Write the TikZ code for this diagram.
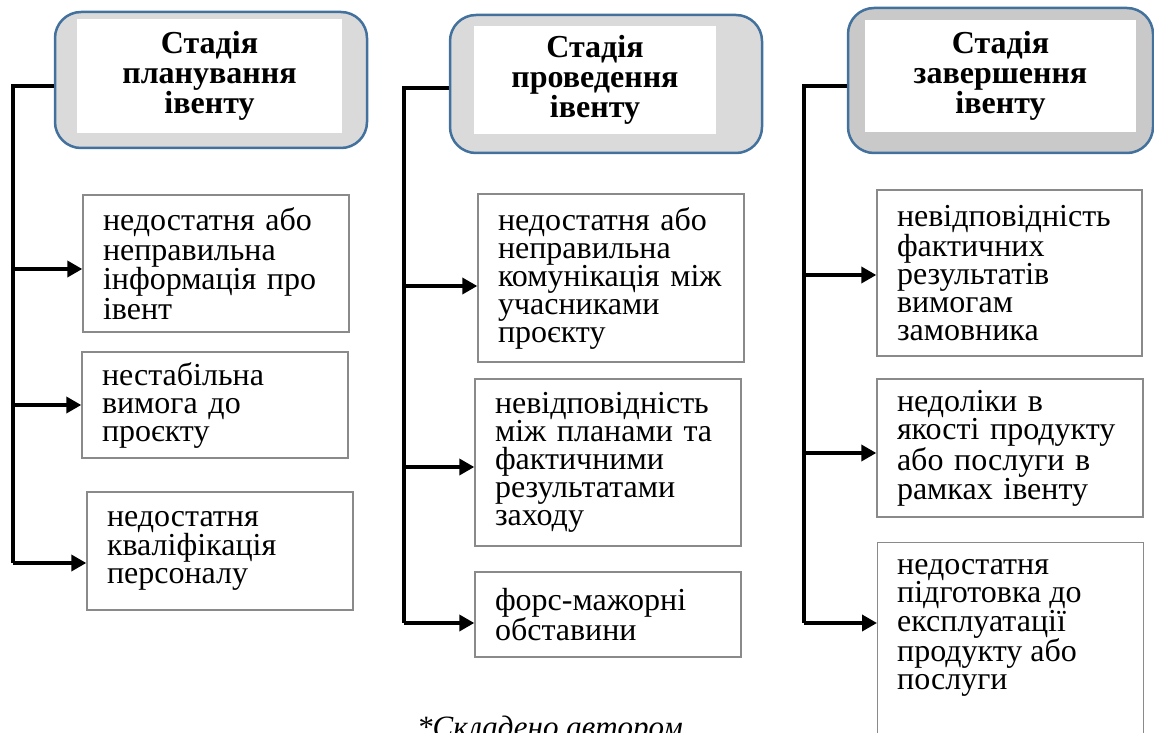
\documentclass[tikz,border=0pt]{standalone}
\usepackage{fontspec}
\setmainfont{Liberation Serif}
\usetikzlibrary{arrows.meta,calc}
\definecolor{hborder}{HTML}{41719C}
\definecolor{hfillA}{HTML}{DADADA}
\definecolor{hfillB}{HTML}{C9C9C9}
\definecolor{bborder}{HTML}{8A8A8A}
\begin{document}
\begin{tikzpicture}[x=1pt,y=-1pt,
  hout/.style={draw=hborder,line width=2.5pt,rounded corners=26pt,inner sep=0pt},
  hin/.style={fill=white,inner sep=0pt,align=center,font=\fontsize{32}{30}\selectfont\bfseries},
  cbox/.style={draw=bborder,line width=1.4pt,inner xsep=0pt,inner ysep=0pt,align=left,
    font=\fontsize{32}{28}\selectfont},
  trunk/.style={line width=3.6pt},
  arr/.style={line width=3.6pt,-{Triangle[length=15pt,width=16pt]}},
  capt/.style={font=\fontsize{31}{31}\selectfont\itshape,inner sep=0pt}
]
\useasboundingbox (0,0) rectangle (1154,733);
% headers
\node[hout,fill=hfillA,minimum width=312pt,minimum height=136pt] (h1) at (211,80) {};
\node[hin,minimum width=265pt,minimum height=114pt] (h1t) at (209.5,76) {Стадія\\планування\\івенту};
\node[hout,fill=hfillA,minimum width=312pt,minimum height=138pt] (h2) at (606,84) {};
\node[hin,minimum width=242pt,minimum height=108pt] (h2t) at (595,80) {Стадія\\проведення\\івенту};
\node[hout,fill=hfillB,minimum width=305pt,minimum height=145pt] (h3) at (1000.5,80.5) {};
\node[hin,minimum width=271pt,minimum height=112pt] (h3t) at (1000.5,76) {Стадія\\завершення\\івенту};
% column 1 boxes
\node[cbox,minimum width=266pt,minimum height=137pt,text width=226pt,
  font=\fontsize{32}{29.5}\selectfont] (b11) at (216,263.5)
  {недостатня або\\неправильна\\інформація про\\івент};
\node[cbox,minimum width=266pt,minimum height=106pt,text width=226pt] (b12) at (215,405)
  {нестабільна\\вимога до\\проєкту};
\node[cbox,minimum width=266pt,minimum height=118pt,text width=226pt] (b13) at (220,551)
  {недостатня\\кваліфікація\\персоналу};
% column 2 boxes
\node[cbox,minimum width=266pt,minimum height=168pt,text width=226pt] (b21) at (611,278)
  {недостатня або\\неправильна\\комунікація між\\учасниками\\проєкту};
\node[cbox,minimum width=266pt,minimum height=167pt,text width=226pt] (b22) at (608,462.5)
  {невідповідність\\між планами та\\фактичними\\результатами\\заходу};
\node[cbox,minimum width=266pt,minimum height=85pt,text width=226pt] (b23) at (608,614.5)
  {форс-мажорні\\обставини};
% column 3 boxes
\node[cbox,minimum width=265pt,minimum height=166pt,text width=225pt] (b31) at (1009.5,273)
  {невідповідність\\фактичних\\результатів\\вимогам\\замовника};
\node[cbox,minimum width=266pt,minimum height=138pt,text width=226pt] (b32) at (1010,448)
  {недоліки в\\якості продукту\\або послуги в\\рамках івенту};
\node[cbox,minimum width=266pt,minimum height=240pt,anchor=north west,
  label={[anchor=north west,align=left,inner sep=0pt,xshift=20pt,yshift=-17pt,
    font=\fontsize{32}{27.3}\selectfont]north west:недостатня\\підготовка до\\експлуатації\\продукту або\\послуги}]
  (b33) at (877,542) {};
% trunks
\coordinate (t1a) at (13,86);  \coordinate (t1b) at (13,563);
\coordinate (t2a) at (404,88); \coordinate (t2b) at (404,623);
\coordinate (t3a) at (804,86); \coordinate (t3b) at (804,623);
\draw[trunk] (t1a -| h1.west) -- (t1a) -- (t1b);
\draw[trunk] (t2a -| h2.west) -- (t2a) -- (t2b);
\draw[trunk] (t3a -| h3.west) -- (t3a) -- (t3b);
% arrows
\coordinate (a11) at (13,269);  \coordinate (a12) at (13,405);  \coordinate (a13) at (13,563);
\coordinate (a21) at (404,286); \coordinate (a22) at (404,467); \coordinate (a23) at (404,623);
\coordinate (a31) at (804,275); \coordinate (a32) at (804,453); \coordinate (a33) at (804,623);
\draw[arr] (a11) -- (a11 -| b11.west);
\draw[arr] (a12) -- (a12 -| b12.west);
\draw[arr] (a13) -- (a13 -| b13.west);
\draw[arr] (a21) -- (a21 -| b21.west);
\draw[arr] (a22) -- (a22 -| b22.west);
\draw[arr] (a23) -- (a23 -| b23.west);
\draw[arr] (a31) -- (a31 -| b31.west);
\draw[arr] (a32) -- (a32 -| b32.west);
\draw[arr] (a33) -- (a33 -| b33.west);
% caption (cut by the lower edge, as in the original)
\node[capt,anchor=base west] (cap) at (417,737) {*Складено автором};
\end{tikzpicture}
\end{document}
